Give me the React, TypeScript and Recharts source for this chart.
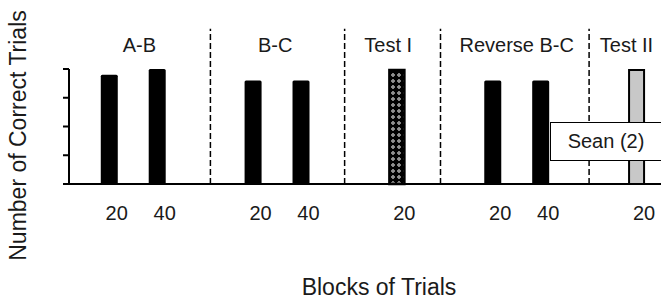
import React from "react";
import {
  BarChart,
  Bar,
  XAxis,
  YAxis,
  ReferenceLine,
  Legend,
} from "recharts";

// trial blocks, one slot per block on the x scale
const slots = [1, 2, 4, 5, 7, 9, 10, 12];
const blockLabels = ["20", "40", "20", "40", "20", "20", "40", "20"];
const correctTrials = [19, 20, 18, 18, 20, 18, 18, 20];
const phaseOfBlock = [
  "A-B",
  "A-B",
  "B-C",
  "B-C",
  "Test I",
  "Reverse B-C",
  "Reverse B-C",
  "Test II",
];

// phase headings and the dashed dividers between phases
const phases = ["A-B", "B-C", "Test I", "Reverse B-C", "Test II"];
const phaseCenters = [1.62, 4.45, 6.81, 9.49, 11.78];
const dividers = [3.1, 5.9, 7.9, 11.0];

const yTicks = [0, 5, 10, 15, 20];

const data = slots.map((x, i) => ({
  x,
  correct: correctTrials[i],
  block: blockLabels[i],
  phase: phaseOfBlock[i],
}));

const FONT = '"Liberation Sans", Arial, Helvetica, sans-serif';
const INK = "#1a1a1a";

const BlockBar = (props: any) => {
  const { x, y, width, height, payload } = props;
  if (payload.phase === "Test I") {
    return (
      <g>
        <defs>
          <pattern id="checks" width="6" height="6" patternUnits="userSpaceOnUse">
            <rect width="6" height="6" fill="#000" />
            <rect x="1.6" y="1.6" width="2.8" height="2.8" fill="#fff" transform="rotate(45 3 3)" />
            <circle cx="3" cy="3" r="0.8" fill="#000" />
          </pattern>
        </defs>
        <rect
          x={x + 1}
          y={y + 1}
          width={width - 2}
          height={height - 1}
          fill="url(#checks)"
          stroke="#000"
          strokeWidth={2.5}
        />
      </g>
    );
  }
  if (payload.phase === "Test II") {
    return (
      <rect
        x={x + 1}
        y={y + 1}
        width={width - 2}
        height={height - 1}
        fill="#c8c8c8"
        stroke="#000"
        strokeWidth={2}
      />
    );
  }
  return <rect x={x} y={y} width={width} height={height} rx={1.5} fill="#000" />;
};

const XTitle = (props: any) => {
  const { viewBox } = props;
  return (
    <text
      x={viewBox.x + viewBox.width / 2 + 14}
      y={viewBox.y + 111}
      textAnchor="middle"
      fontSize={23}
      fontFamily={FONT}
      fill={INK}
    >
      Blocks of Trials
    </text>
  );
};

const YTitle = (props: any) => {
  const { viewBox } = props;
  const cx = viewBox.x + 18;
  const cy = viewBox.y + viewBox.height / 2 + 9;
  return (
    <text
      x={cx}
      y={cy}
      transform={`rotate(-90, ${cx}, ${cy})`}
      textAnchor="middle"
      dominantBaseline="central"
      fontSize={23}
      fontFamily={FONT}
      fill={INK}
    >
      Number of Correct Trials
    </text>
  );
};

const SubjectBox = (props: any) => {
  const name = props.payload && props.payload[0] ? props.payload[0].value : "";
  return (
    <div
      style={{
        boxSizing: "border-box",
        height: 39,
        background: "#fff",
        borderTop: "1.5px solid #000",
        borderBottom: "1.5px solid #000",
        borderLeft: "1.5px solid #000",
        textAlign: "center",
        lineHeight: "36px",
        fontSize: 20,
        fontFamily: FONT,
        color: INK,
      }}
    >
      {name}
    </div>
  );
};

export default function App() {
  return (
    <div style={{ position: "absolute", left: 0, top: 0 }}>
      <BarChart
        width={661}
        height={305}
        data={data}
        margin={{ top: 69, right: 0, bottom: 0, left: 0 }}
      >
        <XAxis
          type="number"
          dataKey="x"
          domain={[0.15, 12.5]}
          allowDataOverflow
          ticks={slots}
          interval={0}
          tickFormatter={(v: number) => blockLabels[slots.indexOf(v)] ?? ""}
          tickLine={false}
          tickMargin={16}
          tick={{ fontSize: 20, fill: INK, fontFamily: FONT, dx: 7 }}
          axisLine={{ stroke: "#000", strokeWidth: 2 }}
          height={121}
          label={<XTitle />}
        />
        <YAxis
          type="number"
          domain={[0, 20]}
          ticks={yTicks}
          interval={0}
          tickFormatter={() => ""}
          tickSize={6}
          tickLine={{ stroke: "#000", strokeWidth: 2 }}
          axisLine={{ stroke: "#000", strokeWidth: 2 }}
          width={69}
          label={<YTitle />}
        />
        {dividers.map((d) => (
          <ReferenceLine
            key={`div-${d}`}
            segment={[
              { x: d, y: 0 },
              { x: d, y: 27 },
            ]}
            ifOverflow="visible"
            stroke="#000"
            strokeWidth={1.5}
            strokeDasharray="6 3"
          />
        ))}
        {phases.map((p, i) => (
          <ReferenceLine
            key={`phase-${p}`}
            x={phaseCenters[i]}
            stroke="none"
            label={{
              value: p,
              position: "top",
              offset: 17,
              fontSize: 20,
              fill: INK,
              fontFamily: FONT,
            }}
          />
        ))}
        <Bar
          dataKey="correct"
          name="Sean (2)"
          barSize={17}
          shape={<BlockBar />}
          isAnimationActive={false}
        />
        <Legend
          layout="horizontal"
          verticalAlign="middle"
          align="center"
          content={<SubjectBox />}
          wrapperStyle={{ left: 550, top: 122, width: 111, height: 39 }}
        />
      </BarChart>
    </div>
  );
}
